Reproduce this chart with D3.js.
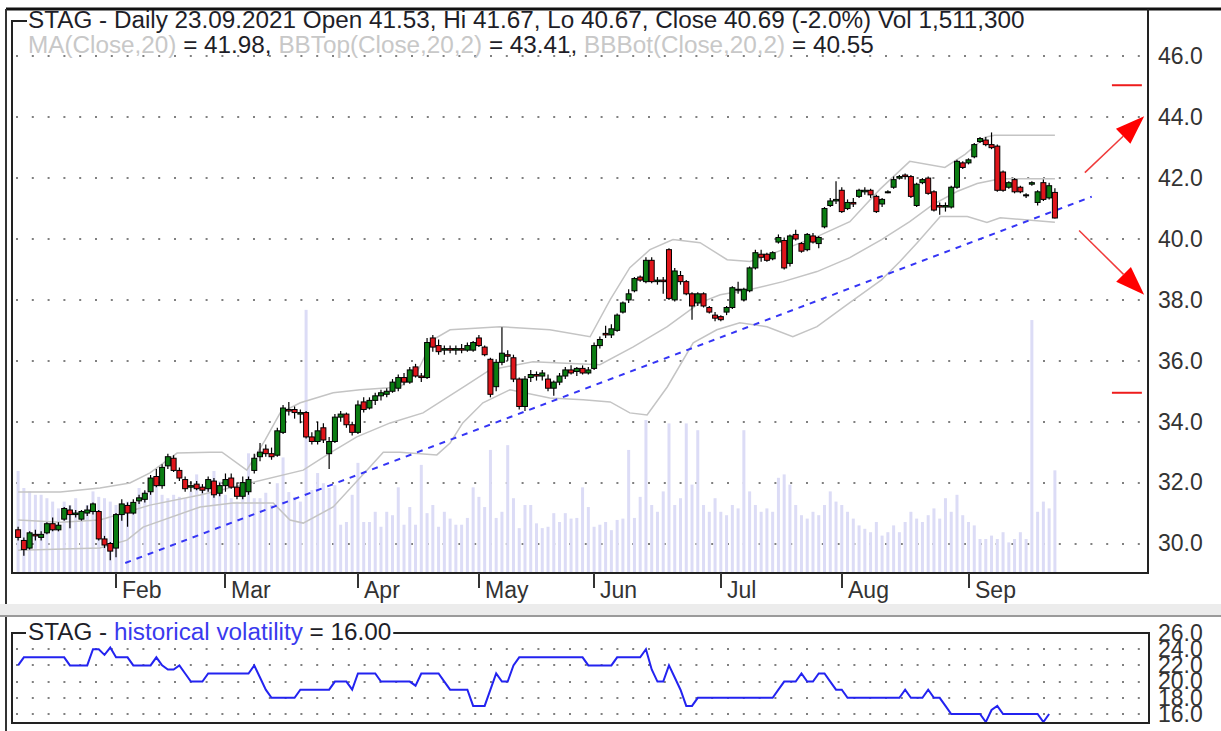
<!DOCTYPE html>
<html>
<head>
<meta charset="utf-8">
<script src="https://cdn.jsdelivr.net/npm/d3@7"></script>
<style>
body { margin: 0; background: #fff; }
text { font-family: "Liberation Sans", Arial, sans-serif; }
</style>
</head>
<body>
<script>
// ---------- data ----------
var months = ["Feb", "Mar", "Apr", "May", "Jun", "Jul", "Aug", "Sep"];
var monthStart = [17, 36, 59, 80, 100, 122, 143, 165];   // index of 1st trading day
var priceTicks = [30, 32, 34, 36, 38, 40, 42, 44, 46];
var hvTicks = [16, 18, 20, 22, 24, 26];

// daily [open, high, low, close], 5 Jan .. 23 Sep 2021
var ohlc = [
[30.45,30.55,30.1,30.2],[30.1,30.2,29.6,29.8],[29.85,30.4,29.8,30.35],[30.3,30.45,30.1,30.25],[30.2,30.4,30.1,30.3],
[30.35,30.7,30.3,30.65],[30.65,30.85,30.4,30.45],[30.45,30.7,30.4,30.6],[30.8,31.2,30.75,31.15],[31.1,31.25,30.5,30.95],
[30.95,31.1,30.85,31.0],[30.8,31.1,30.75,31.05],[31.0,31.25,30.9,31.1],[31.05,31.35,30.95,31.3],[31.05,31.1,30.1,30.15],
[30.15,30.25,29.85,29.95],[30.0,30.05,29.45,29.75],
[29.85,31.0,29.55,30.95],[30.95,31.45,30.75,31.3],[31.25,31.35,30.55,31.0],[31.0,31.45,30.95,31.35],[31.4,31.6,31.3,31.5],
[31.45,31.75,31.35,31.65],[31.7,32.25,31.6,32.15],[32.2,32.45,31.85,31.9],[31.9,32.6,31.8,32.5],[32.55,32.95,32.45,32.85],
[32.8,32.9,32.35,32.4],[32.4,32.5,32.05,32.15],[32.1,32.2,31.7,31.8],[31.85,32.05,31.7,31.9],[31.95,32.05,31.75,31.8],
[31.85,31.95,31.65,31.75],[31.8,32.2,31.7,32.1],[32.05,32.15,31.5,31.6],[31.65,32.0,31.55,31.9],
[31.9,32.3,31.7,32.1],[32.15,32.3,31.8,31.85],[31.85,32.0,31.45,31.55],[31.55,32.2,31.45,32.0],[31.7,32.2,31.6,32.1],
[32.4,32.95,32.3,32.8],[32.85,33.3,32.7,33.0],[33.1,33.25,32.85,32.95],[32.95,33.15,32.75,32.85],[32.9,33.8,32.85,33.7],
[33.65,34.55,33.6,34.45],[34.4,34.65,34.2,34.35],[34.4,34.5,34.1,34.3],[34.25,34.4,33.95,34.3],[34.3,34.35,33.45,33.5],
[33.5,33.65,33.25,33.35],[33.35,34.0,33.25,33.7],[33.8,33.95,33.3,33.4],[32.95,33.5,32.45,33.35],[33.35,34.25,33.3,34.15],
[34.15,34.35,34.0,34.25],[34.25,34.3,33.8,33.9],[33.9,34.0,33.55,33.65],
[33.65,34.7,33.6,34.55],[34.65,34.8,34.3,34.4],[34.45,34.8,34.4,34.7],[34.7,34.95,34.55,34.85],[34.85,35.05,34.7,34.95],
[34.9,35.1,34.8,35.0],[35.0,35.4,34.95,35.3],[35.1,35.55,35.0,35.45],[35.45,35.6,35.2,35.3],[35.3,35.8,35.25,35.7],
[35.8,35.9,35.45,35.5],[35.5,35.6,35.3,35.45],[35.45,36.75,35.4,36.6],[36.75,36.85,36.3,36.45],[36.5,36.7,36.2,36.3],
[36.35,36.5,36.2,36.4],[36.4,36.5,36.25,36.35],[36.35,36.5,36.2,36.4],[36.4,36.55,36.25,36.35],[36.35,36.6,36.3,36.5],
[36.35,36.65,36.3,36.6],
[36.75,36.85,36.45,36.5],[36.45,36.5,36.15,36.2],[36.05,36.1,34.8,34.9],[35.15,36.05,35.0,35.95],[35.95,37.1,35.85,36.25],
[36.2,36.35,36.0,36.15],[36.1,36.2,35.3,35.4],[35.4,35.45,34.4,34.5],[34.5,35.5,34.35,35.4],[35.45,35.7,35.3,35.55],
[35.55,35.65,35.35,35.5],[35.5,35.7,35.35,35.6],[35.4,35.55,35.0,35.1],[35.1,35.35,34.85,35.3],[35.3,35.6,35.2,35.5],
[35.5,35.8,35.4,35.7],[35.7,35.85,35.55,35.6],[35.65,35.8,35.5,35.75],[35.75,35.85,35.55,35.6],[35.6,35.8,35.55,35.7],
[35.75,36.6,35.7,36.5],[36.5,36.8,36.4,36.7],[36.9,37.15,36.75,36.85],[36.85,37.2,36.75,37.05],[37.0,37.55,36.95,37.5],
[37.6,37.95,37.55,37.9],[38.0,38.35,37.9,38.2],[38.3,38.75,38.25,38.7],[38.75,38.8,38.6,38.65],[38.6,39.4,38.55,39.3],
[39.3,39.4,38.55,38.6],[38.6,38.75,38.5,38.65],[38.65,38.75,38.2,38.6],[39.65,39.7,38.0,38.05],[38.0,39.05,37.95,38.95],
[38.8,38.95,38.5,38.6],[38.6,38.65,38.15,38.2],[38.2,38.25,37.35,37.8],[37.9,38.25,37.8,38.2],[38.2,38.25,37.75,37.8],
[37.75,37.8,37.55,37.6],[37.5,37.6,37.3,37.4],
[37.45,37.5,37.3,37.35],[37.6,37.8,37.5,37.75],[37.75,38.45,37.7,38.4],[38.35,38.6,38.2,38.35],[38.0,38.4,37.95,38.35],
[38.3,39.1,38.25,39.05],[39.05,39.65,39.0,39.55],[39.5,39.65,39.25,39.4],[39.5,39.55,39.25,39.3],[39.35,39.6,39.3,39.55],
[39.9,40.15,39.85,40.05],[39.95,40.05,39.0,39.05],[39.2,40.15,39.1,40.1],[40.15,40.3,39.95,40.0],[39.85,39.9,39.55,39.6],
[39.65,40.2,39.6,40.15],[40.1,40.2,39.85,39.9],[39.85,40.1,39.7,40.05],[40.4,41.05,40.35,41.0],[41.1,41.35,41.05,41.25],
[41.25,41.9,41.15,41.3],
[41.6,41.7,40.85,40.9],[41.0,41.3,40.95,41.2],[41.2,41.35,41.05,41.15],[41.4,41.65,41.35,41.6],[41.55,41.7,41.45,41.6],
[41.6,41.65,41.35,41.45],[41.4,41.45,40.85,40.9],[41.15,41.35,41.05,41.3],[41.55,41.6,41.5,41.55],[41.7,42.05,41.65,41.95],
[42.0,42.1,41.95,42.05],[42.1,42.15,41.95,42.05],[42.05,42.1,41.35,41.4],[41.1,41.85,41.05,41.8],[41.85,42.0,41.8,41.95],
[42.0,42.05,41.45,41.5],[41.55,41.6,40.9,40.95],[41.1,41.2,40.8,41.05],[41.05,41.2,40.9,41.1],[41.05,41.75,41.0,41.7],
[41.7,42.6,41.65,42.55],[42.5,42.55,42.3,42.35],
[42.5,42.65,42.45,42.6],[42.7,43.15,42.65,43.1],[43.2,43.35,43.15,43.3],[43.25,43.35,43.05,43.1],[43.1,43.5,42.95,43.0],
[43.05,43.1,41.55,41.6],[42.2,42.25,41.55,41.6],[41.7,41.9,41.65,41.85],[41.95,42.0,41.5,41.55],[41.7,41.75,41.5,41.55],
[41.45,41.5,41.35,41.45],[41.8,41.9,41.75,41.85],[41.2,41.6,41.1,41.55],[41.85,41.95,41.25,41.3],[41.35,41.85,41.3,41.75],
[41.53,41.67,40.67,40.69]
];

// daily volume, millions of shares
var volume = [
1.5,1.25,1.2,1.15,1.15,1.1,1.05,0.95,1.05,1.0,1.1,0.9,1.0,1.2,1.12,1.1,1.05,
1.0,0.9,1.05,1.0,1.25,1.2,1.4,1.3,1.15,1.1,1.15,1.12,1.1,1.2,1.45,1.25,1.25,1.5,1.35,
1.15,1.1,1.05,1.32,1.76,1.1,1.1,1.18,1.0,1.32,1.7,1.19,1.12,1.05,3.87,1.22,1.47,1.32,1.25,1.29,0.71,0.75,1.15,
1.62,0.75,0.75,0.9,0.68,0.9,0.85,1.26,0.71,0.97,0.71,1.59,0.88,1.0,0.68,0.9,0.8,0.71,0.71,0.81,1.26,
1.12,0.97,1.81,0.81,0.9,1.88,1.1,0.66,1.0,1.0,0.73,0.66,0.68,0.88,0.75,0.88,0.8,0.81,1.26,0.97,
0.68,0.71,0.75,0.63,0.78,0.8,1.81,0.81,1.12,2.25,1.0,0.9,1.2,2.2,1.0,1.1,2.2,1.3,2.1,1.0,0.9,1.1,
0.9,0.85,1.0,0.95,2.1,1.2,1.0,0.9,0.95,0.9,1.4,1.45,1.3,1.0,0.85,0.8,0.9,0.85,1.0,1.2,1.05,
1.0,0.9,0.8,0.7,0.65,0.6,0.75,0.55,0.6,0.7,0.6,0.75,0.9,0.8,0.75,0.85,0.95,0.8,1.1,0.9,1.15,0.85,
0.75,0.7,0.5,0.5,0.55,0.5,0.6,0.45,0.5,0.6,0.5,3.72,0.9,1.05,0.95,1.51
];

// historical volatility
var hv = [
22,23,23,23,23,23,23,23,23,22,22,22,22,24,24,23.3,24.2,
23,23,23,22,22,22,22,23,22,21.5,21.5,22,21,20,20,20,21,21,21,
21,21,21,21,21,22,20.5,19,18,18,18,18,18,19,19,19,19,19,19,20,20,20,19,
21,21,21,21,20,20,20,20,20,20,19.5,21,21,21,21,20,19,19,19,19,17,
17,17,19,21,20,20,22,23,23,23,23,23,23,23,23,23,23,23,23,
22,22,22,22,22,23,23,23,23,23,24,21.5,20,20,22,20.5,19,17,17,18,18,18,
18,18,18,18,18,18,18,18,18,18,18,19,20,20,20,21,20,20,21,21,20,
19,19,18,18,18,18,18,18,18,18,18,18,19,18,18,18,19,18,18,17,16,16,
16,16,16,16,15,16.5,17,16,16,16,16,16,16,16,15,16
];

// Bollinger bands [day index, price]
var bbTop = [[0,31.69],[7.3,31.69],[14.2,31.82],[19.4,31.99],[22.9,32.32],[27.6,32.97],[33.3,33.0],[35.4,33.0],
  [39.7,32.41],[42.9,33.4],[45.5,34.29],[49,34.62],[54.7,34.95],[59.4,35.05],[66.3,35.14],[69.3,35.64],[72,36.69],
  [75,37.02],[83.7,37.12],[92.3,37.02],[99.3,36.79],[102.8,38.01],[106.2,39.06],[109.7,39.65],[113.7,39.98],
  [118.4,39.88],[123.1,39.32],[127.1,39.26],[132.8,39.65],[138.7,40.08],[144.4,40.57],[149.6,41.63],[154.8,42.55],
  [160.9,42.35],[164.4,42.78],[167.9,43.34],[169.5,43.41],[180,43.41]];
var bbMid = [[0,30.77],[7.3,30.7],[14.2,30.77],[22.9,31.26],[31.6,31.59],[40.3,31.99],[49.5,32.41],[54.1,32.97],
  [58.8,33.5],[64.6,33.96],[70.3,34.29],[77.9,35.21],[81.9,35.7],[89.4,35.97],[94.1,35.93],[101,35.87],[106.8,36.46],
  [112.7,37.12],[118.4,37.91],[121.9,38.17],[127.1,38.34],[132.8,38.6],[138.7,38.93],[144.4,39.39],[149.9,39.98],
  [154.8,40.57],[158.8,41.13],[163,41.56],[166.5,41.82],[170.5,41.98],[180,41.98]];
var bbBot = [[0,29.78],[14.2,29.85],[18.9,30.11],[21.7,30.54],[31.6,31.2],[37.3,31.33],[44.3,31.33],[47.2,30.77],
  [49.5,30.67],[54.7,31.2],[60.6,32.41],[63.4,33.0],[66.3,33.0],[72.7,32.91],[75,33.3],[77.2,33.96],[80.7,34.62],
  [85.4,35.05],[92.3,34.78],[98.1,34.72],[102.8,34.65],[106.2,34.29],[109.2,34.22],[112.7,35.14],[117.2,36.59],
  [121.3,37.02],[125.3,37.25],[130,37.12],[134.5,36.79],[138.7,37.12],[144.4,37.91],[149.9,38.66],[153.1,39.26],
  [156.1,39.88],[160.1,40.74],[164.8,40.74],[168.2,40.54],[170.5,40.7],[180,40.55]];

// drawn annotations [day index, price]
var trend = [[18.6, 29.36], [186.4, 41.39]];
var arrowUp = [[185.2, 42.18], [195.5, 44.03]];
var arrowDown = [[184.2, 40.28], [195.5, 38.17]];
var redLevels = [45.05, 34.95];
var redSpan = [189.9, 195.1];

// ---------- layout ----------
var W = 1221, H = 731;
var main = {left: 12, right: 1148, top: 9, bottom: 573};
var low = {left: 12, right: 1149, top: 633, bottom: 723};

var svg = d3.select("body").append("svg")
    .attr("width", W)
    .attr("height", H);

var x = d3.scaleLinear().domain([0, 180]).range([18.1, 1054.9]);
var y = d3.scaleLinear().domain([30, 46]).range([543.5, 56.3]);
var yVol = d3.scaleLinear().domain([0, 1]).range([573, 505]);
var yHv = d3.scaleLinear().domain([16, 26]).range([714, 633]);

svg.append("clipPath").attr("id", "clipMain")
  .append("rect")
    .attr("x", main.left).attr("y", main.top)
    .attr("width", main.right - main.left).attr("height", main.bottom - main.top);

// ---------- main panel ----------
svg.append("g").selectAll("line")
  .data(priceTicks)
  .enter().append("line")
    .attr("x1", 16).attr("x2", main.right - 4)
    .attr("y1", function(d) { return Math.round(y(d)); })
    .attr("y2", function(d) { return Math.round(y(d)); })
    .attr("stroke", "#808080")
    .attr("stroke-width", 2)
    .attr("stroke-dasharray", "2,13.8");

var plot = svg.append("g").attr("clip-path", "url(#clipMain)");

// volume
plot.append("g").selectAll("rect")
  .data(volume)
  .enter().append("rect")
    .attr("x", function(d, i) { return x(i) - 1.5; })
    .attr("y", function(d) { return yVol(d); })
    .attr("width", 3)
    .attr("height", function(d) { return yVol(0) - yVol(d); })
    .attr("fill", "#dcdcf6");

// bollinger bands
var bandLine = d3.line()
    .x(function(d) { return x(d[0]); })
    .y(function(d) { return y(d[1]); });

[bbTop, bbMid, bbBot].forEach(function(b) {
  plot.append("path")
    .datum(b)
    .attr("d", bandLine)
    .attr("fill", "none")
    .attr("stroke", "#c4c4c4")
    .attr("stroke-width", 1.5);
});

// trend line
plot.append("path")
  .datum(trend)
  .attr("d", bandLine)
  .attr("fill", "none")
  .attr("stroke", "#3535f5")
  .attr("stroke-width", 2)
  .attr("stroke-dasharray", "6,6");

// candles
var candle = plot.append("g").selectAll("g")
  .data(ohlc)
  .enter().append("g");

candle.append("line")
    .attr("x1", function(d, i) { return x(i); })
    .attr("x2", function(d, i) { return x(i); })
    .attr("y1", function(d) { return y(d[1]); })
    .attr("y2", function(d) { return y(d[2]); })
    .attr("stroke", "#000")
    .attr("stroke-width", 1.2);

candle.append("rect")
    .attr("x", function(d, i) { return x(i) - 2.5; })
    .attr("y", function(d) { return y(Math.max(d[0], d[3])); })
    .attr("width", 5)
    .attr("height", function(d) { return Math.max(1, Math.abs(y(d[0]) - y(d[3]))); })
    .attr("fill", function(d) { return d[3] >= d[0] ? "#0b7d12" : "#e0151b"; })
    .attr("stroke", "#000")
    .attr("stroke-width", 1);

// red annotations
var red = svg.append("g");
red.selectAll("line.lvl")
  .data(redLevels)
  .enter().append("line")
    .attr("class", "lvl")
    .attr("x1", x(redSpan[0])).attr("x2", x(redSpan[1]))
    .attr("y1", function(d) { return y(d); })
    .attr("y2", function(d) { return y(d); })
    .attr("stroke", "#ee1c1c")
    .attr("stroke-width", 2);

[arrowUp, arrowDown].forEach(function(a) {
  var x0 = x(a[0][0]), y0 = y(a[0][1]), x1 = x(a[1][0]), y1 = y(a[1][1]);
  var dx = x1 - x0, dy = y1 - y0, len = Math.sqrt(dx * dx + dy * dy);
  var ux = dx / len, uy = dy / len;
  var hl = 29, hw = 10.5;
  var bx = x1 - ux * hl, by = y1 - uy * hl;
  red.append("line")
    .attr("x1", x0).attr("y1", y0).attr("x2", bx).attr("y2", by)
    .attr("stroke", "#f03a3a").attr("stroke-width", 1.5);
  red.append("path")
    .attr("d", "M" + x1 + "," + y1 +
               "L" + (bx - uy * hw) + "," + (by + ux * hw) +
               "L" + (bx + uy * hw) + "," + (by - ux * hw) + "Z")
    .attr("fill", "#ff0000");
});

// frame + window edges
svg.append("line").attr("x1", 6).attr("x2", W).attr("y1", main.top).attr("y2", main.top)
    .attr("stroke", "#111").attr("stroke-width", 3);
svg.append("line").attr("x1", 6).attr("x2", 6).attr("y1", main.top).attr("y2", H)
    .attr("stroke", "#333").attr("stroke-width", 2);
svg.append("path")
    .attr("d", "M" + main.left + ",21V" + main.bottom + "H" + main.right + "V" + main.top)
    .attr("fill", "none").attr("stroke", "#222").attr("stroke-width", 2);
svg.append("line").attr("x1", main.left - 1).attr("x2", 27).attr("y1", 21).attr("y2", 21)
    .attr("stroke", "#222").attr("stroke-width", 2);

// price axis
svg.append("g")
    .attr("transform", "translate(" + main.right + ",0)")
    .call(d3.axisRight(y).tickValues(priceTicks).tickFormat(d3.format(".1f")).tickSize(0).tickPadding(10))
    .call(function(g) { g.select(".domain").remove(); })
    .selectAll("text")
      .attr("font-family", "Liberation Sans, Arial, sans-serif")
      .attr("font-size", 23)
      .attr("fill", "#333");

// month ticks
var mt = svg.append("g").selectAll("g")
  .data(months)
  .enter().append("g")
    .attr("transform", function(d, i) { return "translate(" + Math.round(x(monthStart[i])) + ",0)"; });
mt.append("line")
    .attr("y1", main.bottom).attr("y2", 588)
    .attr("stroke", "#333").attr("stroke-width", 2);
mt.append("text")
    .attr("x", 6).attr("y", 598)
    .attr("font-size", 23)
    .attr("fill", "#333")
    .text(function(d) { return d; });

// legend
var t1 = svg.append("text")
    .attr("x", 28).attr("y", 28)
    .attr("font-size", 21)
    .attr("fill", "#1e1e28")
    .text("STAG - Daily 23.09.2021 Open 41.53, Hi 41.67, Lo 40.67, Close 40.69 (-2.0%) Vol 1,511,300");
var w1 = t1.node().getComputedTextLength();
var fs = 21 * 997 / w1;
t1.attr("font-size", fs.toFixed(2));

var t2 = svg.append("text")
    .attr("x", 28).attr("y", 53)
    .attr("font-size", fs.toFixed(2))
    .attr("fill", "#1e1e28");
[["MA(Close,20)", "#c8c8c8"], [" = 41.98, ", "#1e1e28"],
 ["BBTop(Close,20,2)", "#c8c8c8"], [" = 43.41, ", "#1e1e28"],
 ["BBBot(Close,20,2)", "#c8c8c8"], [" = 40.55", "#1e1e28"]].forEach(function(p) {
  t2.append("tspan").attr("fill", p[1]).text(p[0]);
});

// ---------- splitter ----------
svg.append("rect").attr("x", 0).attr("y", 604).attr("width", W).attr("height", 11).attr("fill", "#ececec");
svg.append("line").attr("x1", 0).attr("x2", W).attr("y1", 616).attr("y2", 616)
    .attr("stroke", "#9a9a9a").attr("stroke-width", 2);

// ---------- volatility panel ----------
svg.append("g").selectAll("line")
  .data(hvTicks)
  .enter().append("line")
    .attr("x1", 16).attr("x2", low.right - 4)
    .attr("y1", function(d) { return Math.round(yHv(d)); })
    .attr("y2", function(d) { return Math.round(yHv(d)); })
    .attr("stroke", "#808080")
    .attr("stroke-width", 2)
    .attr("stroke-dasharray", "2,13.8");

svg.append("path")
  .datum(hv)
  .attr("d", d3.line()
      .x(function(d, i) { return x(i); })
      .y(function(d) { return yHv(d); }))
  .attr("fill", "none")
  .attr("stroke", "#2323f0")
  .attr("stroke-width", 2);

svg.append("rect")
    .attr("x", low.left).attr("y", low.top)
    .attr("width", low.right - low.left).attr("height", low.bottom - low.top)
    .attr("fill", "none").attr("stroke", "#222").attr("stroke-width", 2);

var hvBg = svg.append("rect").attr("fill", "#fff");
var t3 = svg.append("text")
    .attr("x", 28).attr("y", low.top + 7)
    .attr("font-size", fs.toFixed(2))
    .attr("fill", "#1e1e28");
t3.append("tspan").text("STAG - ");
t3.append("tspan").attr("fill", "#3a3aee").text("historical volatility");
t3.append("tspan").text(" = 16.00");
var w3 = t3.node().getComputedTextLength();
hvBg.attr("x", 26).attr("y", low.top - 10).attr("width", w3 + 4).attr("height", 18);

svg.append("g")
    .attr("transform", "translate(" + low.right + ",0)")
    .call(d3.axisRight(yHv).tickValues(hvTicks).tickFormat(d3.format(".1f")).tickSize(0).tickPadding(9))
    .call(function(g) { g.select(".domain").remove(); })
    .selectAll("text")
      .attr("font-family", "Liberation Sans, Arial, sans-serif")
      .attr("font-size", 23)
      .attr("fill", "#333");
</script>
</body>
</html>
